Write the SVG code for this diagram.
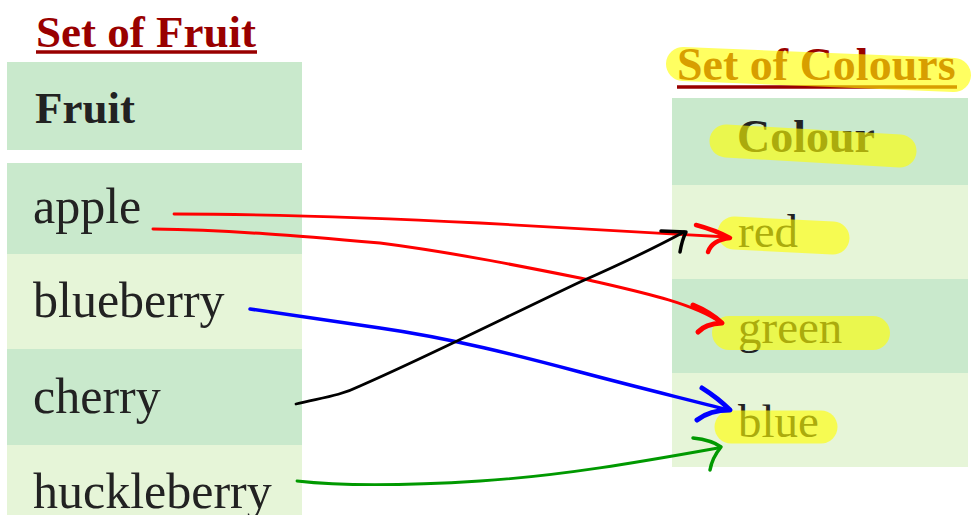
<svg xmlns="http://www.w3.org/2000/svg" width="975" height="515" viewBox="0 0 975 515">
<style>
.dk{fill:#c9e9cc}.lt{fill:#e6f5d8}
.title{font-family:"Liberation Serif",serif;font-weight:bold;fill:#990000}
.head{font-family:"Liberation Serif",serif;font-weight:bold;fill:#222}
.item{font-family:"Liberation Serif",serif;fill:#222}
.ul{stroke:#990000;stroke-width:3.5}
.hl{stroke:#ffff00;stroke-opacity:0.62;stroke-linecap:round;fill:none}
.c{fill:none;stroke-linecap:round;stroke-linejoin:round}
</style>
<rect width="975" height="515" fill="#ffffff"/>
<g id="fruit-table">
<text class="title" x="36" y="47" font-size="45">Set of Fruit</text>
<line class="ul" x1="36" y1="52" x2="257" y2="52"/>
<g id="fruit-header"><rect class="dk" x="7" y="62" width="295" height="88"/><text class="head" x="35" y="123" font-size="45">Fruit</text></g>
<g id="apple"><rect class="dk" x="7" y="163" width="295" height="91"/><text class="item" x="33" y="223" font-size="50">apple</text></g>
<g id="blueberry"><rect class="lt" x="7" y="254" width="295" height="95"/><text class="item" x="33" y="317" font-size="50">blueberry</text></g>
<g id="cherry"><rect class="dk" x="7" y="349" width="295" height="96"/><text class="item" x="33" y="413" font-size="50">cherry</text></g>
<g id="huckleberry"><rect class="lt" x="7" y="445" width="295" height="70"/><text class="item" x="33" y="508" font-size="50">huckleberry</text></g>
</g>
<g id="colour-table">
<text class="title" x="677" y="80" font-size="46">Set of Colours</text>
<line class="ul" x1="677" y1="87" x2="957" y2="87"/>
<path class="hl" d="M683 64 L954 75" stroke-width="34"/>
<g id="colour-header"><rect class="dk" x="672" y="98" width="296" height="87"/><text class="head" x="737" y="152" font-size="46">Colour</text><path class="hl" d="M726 141 L900 151" stroke-width="33"/></g>
<g id="red"><rect class="lt" x="672" y="185" width="296" height="94"/><text class="item" x="738" y="247" font-size="47">red</text><path class="hl" d="M734 233 L833 238" stroke-width="33"/></g>
<g id="green"><rect class="dk" x="672" y="279" width="296" height="94"/><text class="item" x="738" y="343" font-size="47">green</text><path class="hl" d="M729 333 L873 333" stroke-width="34"/></g>
<g id="blue"><rect class="lt" x="672" y="373" width="296" height="94"/><text class="item" x="738" y="437" font-size="47">blue</text><path class="hl" d="M731 427 L821 427" stroke-width="33"/></g>
</g>
<g id="connectors">
<g id="apple-red" stroke="#ff0000">
<path class="c" stroke-width="2.8" d="M174 214 C280 214 380 218 480 223 C580 228 650 233 728 237"/>
<path class="c" stroke-width="4.5" d="M696 225 Q715 230 730 238 Q712 240 708 252"/>
</g>
<g id="apple-green" stroke="#ff0000">
<path class="c" stroke-width="3" d="M153 229 C230 230 300 236 380 243 C450 252 520 266 580 278 C640 292 690 302 720 322"/>
<path class="c" stroke-width="5" d="M693 305 Q710 312 722 323 Q705 324 698 332"/>
</g>
<g id="blueberry-blue" stroke="#0000ff">
<path class="c" stroke-width="3.5" d="M250 309 C300 316 340 322 380 328 C450 338 520 356 580 372 C640 388 690 400 728 410"/>
<path class="c" stroke-width="5" d="M702 388 Q718 398 730 410 Q710 410 697 420"/>
</g>
<g id="cherry-red" stroke="#000000">
<path class="c" stroke-width="2.8" d="M296 404 C320 398 340 396 360 386 C420 360 500 320 580 282 C630 260 660 245 684 232"/>
<path class="c" stroke-width="3.5" d="M661 231 L686 232 Q682 240 680 252"/>
</g>
<g id="huckleberry-blue" stroke="#009900">
<path class="c" stroke-width="2.8" d="M297 481 C340 486 400 486 480 481 C560 476 640 462 718 448"/>
<path class="c" stroke-width="3.5" d="M693 438 Q712 440 721 447 Q712 458 710 470"/>
</g>
</g>
</svg>
